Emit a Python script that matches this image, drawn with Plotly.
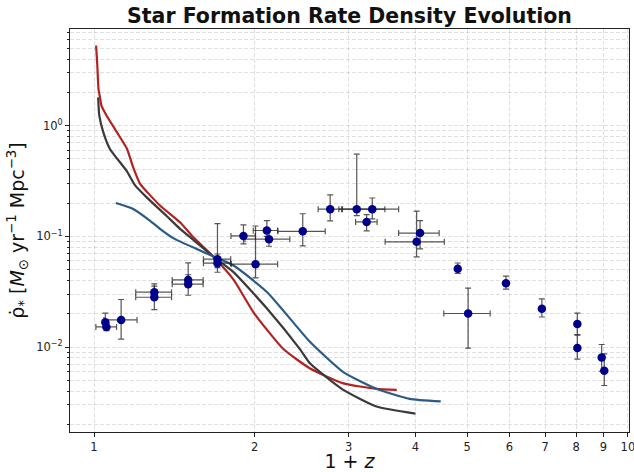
import plotly.graph_objects as go

# ---------------- data ----------------
# observational points (1+z, SFRD) with asymmetric errors
obs_x = [1.05, 1.055, 1.124, 1.297, 1.297, 1.501, 1.501, 1.703, 1.703, 2.007,
         1.905, 2.107, 2.127, 2.46, 2.769, 3.105, 3.32, 3.24, 4.08, 4.02,
         4.80, 5.02, 5.91, 6.90, 8.04, 8.04, 8.93, 9.03]
obs_y = [0.0168, 0.0152, 0.0176, 0.0313, 0.0282, 0.0404, 0.0370, 0.0622, 0.0573, 0.0561,
         0.101, 0.113, 0.0944, 0.111, 0.176, 0.176, 0.176, 0.135, 0.107, 0.0892,
         0.0509, 0.0201, 0.0378, 0.0222, 0.0162, 0.0098, 0.00805, 0.0061]
obs_yerr_plus = [0.0035, 0.0012, 0.0093, 0.0059, 0.0074, 0.0172, 0.008, 0.068, 0.012, 0.068,
                 0.026, 0.026, 0.019, 0.049, 0.061, 0.378, 0.046, 0.022, 0.032, 0.08,
                 0.0066, 0.014, 0.006, 0.0051, 0.0041, 0.0031, 0.0025, 0.0026]
obs_yerr_minus = [0.0018, 0.0011, 0.0058, 0.004, 0.0064, 0.005, 0.0076, 0.01, 0.0099, 0.014,
                  0.0154, 0.013, 0.013, 0.029, 0.038, 0.022, 0.032, 0.023, 0.030, 0.024,
                  0.0045, 0.0103, 0.0044, 0.0035, 0.0033, 0.002, 0.002, 0.0016]
obs_xerr_plus = [0.0, 0.047, 0.08, 0.1, 0.1, 0.1, 0.1, 0.1, 0.1, 0.2,
                 0.1, 0.1, 0.2, 0.25, 0.14, 0.4, 0.4, 0.15, 0.35, 0.51,
                 0.0, 0.5, 0.0, 0.0, 0.0, 0.0, 0.0, 0.0]
obs_xerr_minus = [0.0, 0.047, 0.08, 0.1, 0.1, 0.1, 0.1, 0.1, 0.1, 0.2,
                  0.1, 0.12, 0.21, 0.25, 0.14, 0.23, 0.4, 0.15, 0.36, 0.51,
                  0.0, 0.5, 0.0, 0.0, 0.0, 0.0, 0.0, 0.0]

# model curves
red_x = [1.009, 1.0143, 1.0195, 1.026, 1.033, 1.056, 1.104, 1.153, 1.184, 1.219,
         1.329, 1.449, 1.535, 1.672, 1.825, 1.992, 2.263, 2.54, 2.93, 3.38, 3.69]
red_y = [5.3, 3.48, 2.14, 1.8, 1.51, 1.23, 0.87, 0.616, 0.42, 0.3,
         0.19, 0.134, 0.098, 0.0658, 0.0407, 0.0204, 0.0096, 0.0064, 0.0047, 0.0042, 0.0041]

black_x = [1.018, 1.023, 1.041, 1.071, 1.151, 1.193, 1.255, 1.369, 1.449, 1.535, 1.672,
           1.825, 2.11, 2.43, 2.54, 2.93, 3.38, 4.0]
black_y = [1.80, 1.23, 0.87, 0.616, 0.39, 0.29, 0.225, 0.152, 0.117, 0.093, 0.0658,
           0.0475, 0.0222, 0.0096, 0.0071, 0.00411, 0.00291, 0.00251]

blue_x = [1.099, 1.184, 1.272, 1.329, 1.41, 1.58, 1.825, 2.11, 2.54, 2.93, 3.38, 3.9, 4.46]
blue_y = [0.2, 0.177, 0.139, 0.117, 0.096, 0.0745, 0.0545, 0.0313, 0.0111, 0.00594,
          0.0042, 0.00341, 0.00323]

x_ticks = [1, 2, 3, 4, 5, 6, 7, 8, 9, 10]
x_ticklabels = ["1", "2", "3", "4", "5", "6", "7", "8", "9", "10"]
y_ticks = [0.01, 0.1, 1]
y_ticklabels = ["10<sup>−2</sup>", "10<sup>−1</sup>", "10<sup>0</sup>"]

# ---------------- figure ----------------
FONT = "DejaVu Sans"
fig = go.Figure()

curves = [(red_x, red_y, "#b22222"), (black_x, black_y, "#3a3a3a"), (blue_x, blue_y, "#2a5b86")]
for cx, cy, col in curves:
    fig.add_trace(go.Scatter(x=cx, y=cy, mode="lines",
                             line=dict(color=col, width=2.2, shape="spline", smoothing=0.5),
                             showlegend=False, hoverinfo="skip"))

fig.add_trace(go.Scatter(
    x=obs_x, y=obs_y, mode="markers",
    marker=dict(color="#00008b", size=8.5, line=dict(width=0)),
    error_y=dict(type="data", symmetric=False, array=obs_yerr_plus, arrayminus=obs_yerr_minus,
                 color="rgba(30,30,30,0.75)", thickness=1.2, width=3),
    error_x=dict(type="data", symmetric=False, array=obs_xerr_plus, arrayminus=obs_xerr_minus,
                 color="rgba(30,30,30,0.75)", thickness=1.2, width=3),
    showlegend=False))

minor_y = [m * 10 ** e for e in (-3, -2, -1, 0) for m in range(2, 10) if 0.0017 < m * 10 ** e < 7.5]
grid_col = "rgba(0,0,0,0.12)"

fig.update_layout(
    width=634, height=472,
    margin=dict(l=70, r=5, t=29, b=40),
    paper_bgcolor="white", plot_bgcolor="white",
    font=dict(family=FONT, color="#222", size=11),
    title=dict(text="<b>Star Formation Rate Density Evolution</b>",
               x=0.5, xref="paper", xanchor="center",
               y=1 - 16 / 472, yref="container", yanchor="middle",
               font=dict(family=FONT, size=20.5, color="#111")),
    showlegend=False,
)

fig.update_xaxes(
    type="log", range=[-0.045, 1.002], automargin=False,
    tickmode="array", tickvals=x_ticks, ticktext=x_ticklabels,
    ticklabeloverflow="allow",
    ticks="outside", ticklen=4, tickcolor="#222", tickwidth=1,
    showline=True, linecolor="#222", linewidth=1, mirror=True,
    showgrid=True, gridcolor=grid_col, griddash="4px,2px", gridwidth=0.8,
    zeroline=False,
    tickfont=dict(family=FONT, size=11.5, color="#222"),
    title=dict(text="1 + <i>z</i>", font=dict(family=FONT, size=19, color="#111"), standoff=4),
)
fig.update_yaxes(
    type="log", range=[-2.767, 0.873], automargin=False,
    tickmode="array", tickvals=y_ticks, ticktext=y_ticklabels,
    ticks="outside", ticklen=4, tickcolor="#222", tickwidth=1,
    showline=True, linecolor="#222", linewidth=1, mirror=True,
    showgrid=True, gridcolor=grid_col, griddash="4px,2px", gridwidth=0.8,
    zeroline=False,
    minor=dict(tickmode="array", tickvals=minor_y, ticks="outside", ticklen=2,
               tickcolor="#222", showgrid=True, gridcolor=grid_col, griddash="4px,2px", gridwidth=0.8),
    tickfont=dict(family=FONT, size=11.5, color="#222"),
    title=dict(text="ρ̇<sub>*</sub> [<i>M</i><sub>⊙</sub> yr<sup>−1</sup> Mpc<sup>−3</sup>]",
               font=dict(family=FONT, size=19, color="#111"), standoff=6),
)

fig.write_html("out.html", config={"displayModeBar": False},
               post_script="document.body.style.margin='0';document.body.style.overflow='hidden';")
